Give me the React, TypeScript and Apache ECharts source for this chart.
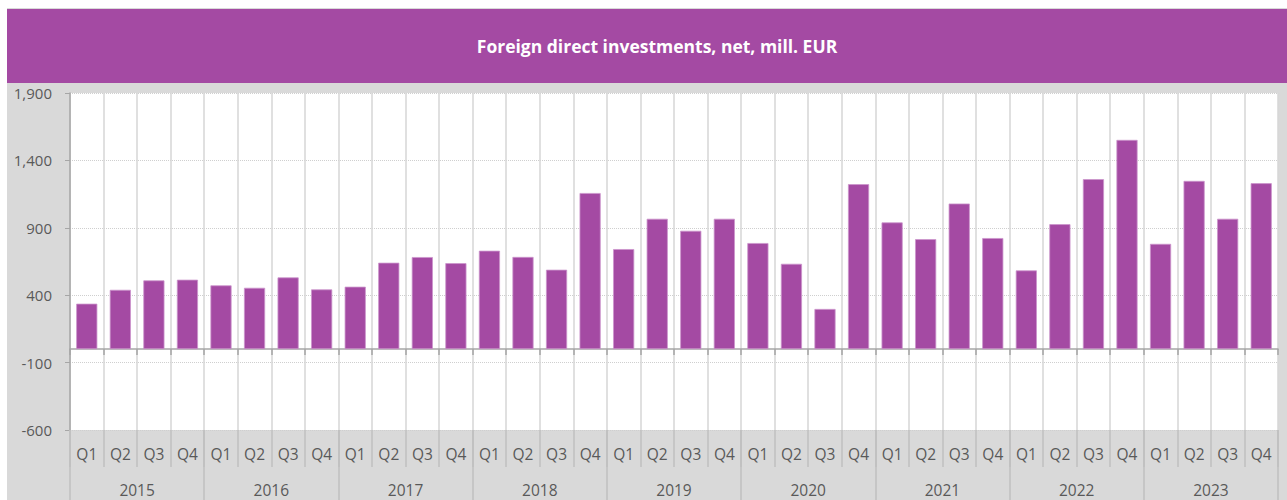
import React, { useEffect, useRef } from "react";
import * as echarts from "echarts";

const years = ["2015", "2016", "2017", "2018", "2019", "2020", "2021", "2022", "2023"];
const quarters = ["Q1", "Q2", "Q3", "Q4"];
const quarterLabels: string[] = years.flatMap(() => quarters);
const fdiValues = [
  337, 440, 510, 515,
  473, 455, 532, 443,
  463, 641, 683, 638,
  730, 684, 589, 1158,
  742, 967, 878, 967,
  787, 633, 298, 1224,
  940, 816, 1080, 824,
  584, 927, 1261, 1552,
  781, 1248, 967, 1231,
];
const yTicks = [-600, -100, 400, 900, 1400, 1900];
const titleText = "Foreign direct investments, net, mill. EUR";

const PURPLE = "#A44AA3";
const LABEL = "#595959";
const FONT = "'Open Sans', 'Noto Sans', sans-serif";

export default function App() {
  const ref = useRef<HTMLDivElement>(null);
  useEffect(() => {
    if (!ref.current) return;
    const chart = echarts.init(ref.current, undefined, { renderer: "svg" });
    chart.setOption({
      animation: false,
      backgroundColor: "#D9D9D9",
      textStyle: { fontFamily: FONT },
      graphic: [
        {
          type: "rect",
          shape: { x: 0, y: 1, width: 1280, height: 74 },
          style: { fill: PURPLE },
          silent: true,
        },
        {
          type: "text",
          x: 650,
          y: 38,
          style: {
            text: titleText,
            fill: "#ffffff",
            fontSize: 17.5,
            fontWeight: "bold",
            fontFamily: "Open Sans",
            textAlign: "center",
            textVerticalAlign: "middle",
          },
          silent: true,
        },
      ],
      grid: {
        left: 63,
        right: 9,
        top: 85,
        bottom: 70,
        show: true,
        backgroundColor: "#ffffff",
        borderWidth: 0,
        containLabel: false,
      },
      xAxis: [
        {
          type: "category",
          data: quarterLabels,
          boundaryGap: true,
          axisLine: { show: true, onZero: true, lineStyle: { color: "#A6A6A6", width: 1.5 } },
          axisTick: { show: true, interval: 0, length: 6, lineStyle: { color: "#A6A6A6", width: 1.5 } },
          axisLabel: { show: false },
          splitLine: { show: true, interval: 0, lineStyle: { color: "#D6D6D6", width: 1.5 } },
        },
        {
          type: "category",
          data: quarterLabels,
          position: "bottom",
          boundaryGap: true,
          axisLine: { show: false, onZero: false },
          axisTick: { show: true, interval: 0, length: 37, lineStyle: { color: "#BFBFBF", width: 1.5 } },
          axisLabel: { show: true, interval: 0, margin: 16, color: LABEL, fontSize: 15.5, fontFamily: FONT },
          splitLine: { show: false },
        },
        {
          type: "category",
          data: years,
          position: "bottom",
          boundaryGap: true,
          axisLine: { show: false, onZero: false },
          axisTick: { show: true, interval: 0, length: 72, lineStyle: { color: "#BFBFBF", width: 1.5 } },
          axisLabel: { show: true, interval: 0, margin: 52, color: LABEL, fontSize: 15.5, fontFamily: FONT },
          splitLine: { show: false },
        },
      ],
      yAxis: {
        type: "value",
        min: yTicks[0],
        max: yTicks[yTicks.length - 1],
        interval: 500,
        axisLine: { show: true, lineStyle: { color: "#A6A6A6", width: 1.5 } },
        axisTick: { show: true, length: 5, lineStyle: { color: "#A6A6A6" } },
        axisLabel: {
          margin: 18,
          color: LABEL,
          fontSize: 15,
          fontFamily: FONT,
          formatter: (v: number) => v.toLocaleString("en-US"),
        },
        splitLine: { show: true, lineStyle: { color: "#CFCFCF", type: "dotted", width: 1 } },
      },
      series: [
        {
          type: "bar",
          xAxisIndex: 0,
          data: fdiValues,
          barCategoryGap: "37%",
          itemStyle: { color: PURPLE, borderColor: "#CC94CC", borderWidth: 0.8 },
        },
      ],
    });
    return () => chart.dispose();
  }, []);
  return (
    <div
      ref={ref}
      style={{ position: "absolute", left: 7, top: 8, width: 1280, height: 492 }}
    />
  );
}
